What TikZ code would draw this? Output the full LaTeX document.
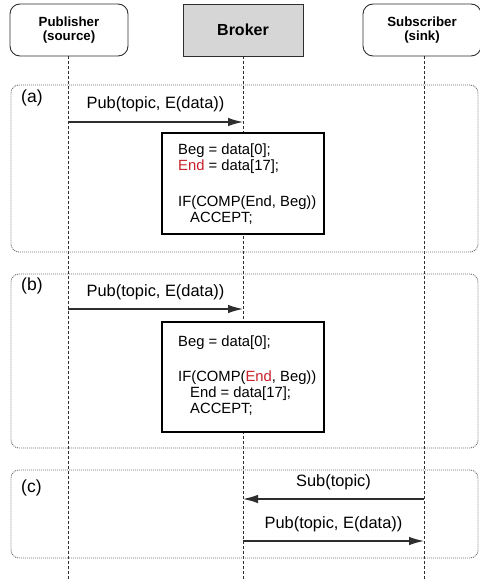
\documentclass[tikz,border=0pt]{standalone}
\usepackage{fontspec}
\setmainfont{Liberation Sans}
\usetikzlibrary{arrows.meta}
\definecolor{redtxt}{HTML}{C8202A}
\definecolor{brokerfill}{HTML}{D6D6D6}
\definecolor{linegray}{HTML}{2E2E2E}
\definecolor{dotgray}{HTML}{6E6E6E}
\begin{document}
\begin{tikzpicture}[x=1pt,y=-1pt,
  actor/.style={draw=linegray, line width=0.9pt, rounded corners=10pt, minimum width=118pt, minimum height=52pt, align=center, font=\bfseries\fontsize{13.3}{14}\selectfont, inner sep=0pt},
  brokerbox/.style={draw=linegray, line width=0.9pt, fill=brokerfill, minimum width=120pt, minimum height=52pt, font=\bfseries\fontsize{16}{18}\selectfont, inner sep=0pt},
  lifeline/.style={draw=linegray, line width=0.8pt, dash pattern=on 3pt off 2pt},
  group/.style={draw=dotgray, line width=0.9pt, dash pattern=on 1pt off 1pt, rounded corners=8pt},
  grouplabel/.style={font=\fontsize{17.5}{18}\selectfont, inner sep=0pt},
  msg/.style={draw=linegray, line width=1.2pt, -{Latex[length=15pt,width=8.5pt]}},
  msglabel/.style={font=\fontsize{16.4}{18}\selectfont, inner sep=0pt},
  codebox/.style={draw=black, line width=1.4pt, fill=white, inner sep=0pt},
  code/.style={font=\fontsize{14.8}{16}\selectfont, align=left, anchor=west, inner sep=0pt}
]
\useasboundingbox (0,0) rectangle (479,580);

% actors
\node[actor] (pub) at (69,30) {Publisher\\(source)};
\node[brokerbox] (broker) at (243,30) {Broker};
\node[actor] (sub) at (422,30) {Subscriber\\(sink)};

% lifeline end points
\coordinate (pubend) at (68,580);
\coordinate (brokend) at (243,580);
\coordinate (subend) at (424,580);
\draw[lifeline] (pub.south -| pubend) -- (pubend);
\draw[lifeline] (broker.south -| brokend) -- (brokend);
\draw[lifeline] (sub.south -| subend) -- (subend);

% groups
\node[group, minimum width=467pt, minimum height=167pt, inner sep=0pt] (ga) at (244.5,168.5) {};
\node[group, minimum width=467pt, minimum height=174pt, inner sep=0pt] (gb) at (244.5,361) {};
\node[group, minimum width=467pt, minimum height=88pt, inner sep=0pt] (gc) at (244.5,514) {};
\node[grouplabel, anchor=west] (la) at (21,98) {(a)};
\node[grouplabel, anchor=west] (lb) at (21,286) {(b)};
\node[grouplabel, anchor=west] (lc) at (21,488) {(c)};

% (a)
\coordinate (a1) at (68,122);
\coordinate (a2) at (243,122);
\draw[msg] (a1) -- node[msglabel, above=9pt] (pa) {Pub(topic, E(data))} (a2);
\node[codebox, minimum width=162pt, minimum height=101pt] (boxa) at (243,183.5) {};
\node[code] (codea) at (178,184) {Beg = data[0];\\
\textcolor{redtxt}{End} = data[17];\\[20pt]
IF(COMP(End, Beg))\\
\hspace*{12pt}ACCEPT;};

% (b)
\coordinate (b1) at (68,309);
\coordinate (b2) at (243,309);
\draw[msg] (b1) -- node[msglabel, above=8pt] (pb) {Pub(topic, E(data))} (b2);
\node[codebox, minimum width=162pt, minimum height=110pt] (boxb) at (243,377) {};
\node[code] (codeb) at (178,375.5) {Beg = data[0];\\[19pt]
IF(COMP(\textcolor{redtxt}{End}, Beg))\\
\hspace*{12pt}End = data[17];\\
\hspace*{12pt}ACCEPT;};

% (c)
\coordinate (c1) at (424,499);
\coordinate (c2) at (243,499);
\draw[msg] (c1) -- node[msglabel, above=9pt] (sc) {Sub(topic)} (c2);
\coordinate (c3) at (243,541);
\coordinate (c4) at (424,541);
\draw[msg] (c3) -- node[msglabel, above=9pt] (pc) {Pub(topic, E(data))} (c4);
\end{tikzpicture}
\end{document}
